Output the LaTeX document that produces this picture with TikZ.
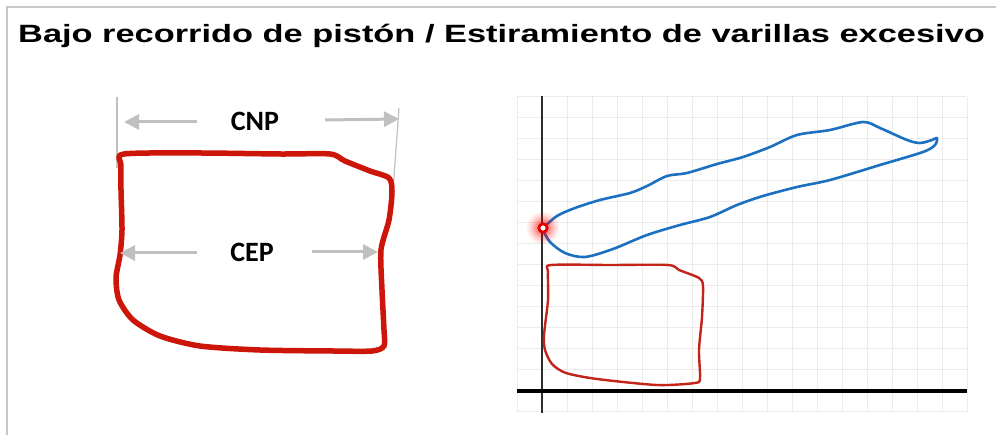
\documentclass[tikz,border=0pt]{standalone}
\usepackage{fontspec}
\setmainfont{Liberation Sans}
\newfontfamily\calib{Carlito}
\usetikzlibrary{arrows.meta}
\definecolor{framegray}{RGB}{200,200,200}
\definecolor{gridgray}{RGB}{236,236,236}
\definecolor{arrgray}{RGB}{192,192,192}
\definecolor{bigred}{RGB}{205,22,10}
\definecolor{smallred}{RGB}{195,35,25}
\definecolor{curveblue}{RGB}{28,112,192}
\definecolor{axisdark}{RGB}{45,45,45}
\tikzset{
  dimarrow/.style={draw=arrgray,line width=3pt,-{Triangle[length=15pt,width=15pt]}},
  dimline/.style={draw=arrgray,line width=1.2pt},
  lbl/.style={font=\calib\bfseries\fontsize{28}{30}\selectfont,inner sep=0pt},
  gridline/.style={draw=gridgray,line width=1pt},
}
\begin{document}
\begin{tikzpicture}[x=1pt,y=-1pt]
\useasboundingbox (0,0) rectangle (996,435);
\fill[white] (0,0) rectangle (996,435);
% frame
\draw[framegray,line width=2pt] (7,435) -- (7,7) -- (996,7);
% title
\node[anchor=base west,inner sep=0pt,font=\bfseries\fontsize{25}{28}\selectfont] (title) at (18,43) {\scalebox{1.375}[1]{Bajo recorrido de pistón / Estiramiento de varillas excesivo}};
% left diagram
\coordinate (vl1) at (117,97); \coordinate (vl2) at (117,168);
\coordinate (vr1) at (399,108); \coordinate (vr2) at (393,190);
\draw[dimline] (vl1) -- (vl2);
\draw[dimline] (vr1) -- (vr2);
\draw[bigred,line width=5.5pt,line join=round] plot[smooth cycle,tension=0.45] coordinates {
 (124,154) (200,153) (280,154) (330,154) (345,161) (370,171) (389,178) (392,192)
 (389,220) (381,250) (382,290) (384,330) (384,346) (372,351) (333,351) (260,350)
 (200,346) (160,336) (133,320) (119,300) (116,278) (120,255) (122,230) (121,190) (121,165)};
\node[lbl] (cnp) at (255,121) {CNP};
\node[lbl] (cep) at (252,252) {CEP};
\coordinate (cnpL0) at (197,122); \coordinate (cnpL1) at (124,122);
\coordinate (cnpR0) at (325,120); \coordinate (cnpR1) at (399,119);
\coordinate (cepL0) at (197,253); \coordinate (cepL1) at (120,253);
\coordinate (cepR0) at (312,252); \coordinate (cepR1) at (378,252);
\draw[dimarrow] (cnpL0) -- (cnpL1);
\draw[dimarrow] (cnpR0) -- (cnpR1);
\draw[dimarrow] (cepL0) -- (cepL1);
\draw[dimarrow] (cepR0) -- (cepR1);
% grid
\foreach \gx in {517,542,...,967} \draw[gridline] (\gx,97) -- (\gx,412);
\foreach \gy in {97,118,...,412} \draw[gridline] (517,\gy) -- (967,\gy);
% axes
\coordinate (ytop) at (542,96); \coordinate (ybot) at (542,413);
\coordinate (xl) at (517,391); \coordinate (xr) at (967,391);
\draw[axisdark,line width=1.6pt] (ytop) -- (ybot);
\draw[black,line width=4pt] (xl) -- (xr);
% blue card
\draw[curveblue,line width=2.6pt,line join=round,line cap=round] plot[smooth,tension=0.5] coordinates {
 (543,228) (557,216) (575,208) (600,200) (630,193) (647,186) (667,176) (687,173)
 (717,164) (743,157) (770,147) (797,135) (830,130) (863,122) (880,128) (907,140)
 (920,143) (932,140) (937,138) (935,145) (923,152) (880,165) (830,180) (797,187)
 (763,196) (737,205) (710,217) (680,225) (647,235) (613,249) (585,257) (565,253)
 (550,242) (543,230)};
% small red card
\draw[smallred,line width=2.4pt,line join=round] plot[smooth cycle,tension=0.45] coordinates {
 (551,265) (610,265) (668,265) (679,270) (699,278) (703,286) (702,317) (699,350)
 (700,378) (695,383) (657,385) (597,379) (566,373) (552,364) (545,350) (544,335)
 (548,300) (548,272)};
% red dot with glow
\coordinate (dot) at (543,228);
\foreach \r/\o in {16/0.06,14/0.08,12/0.1,10/0.12,8/0.16} \fill[red,opacity=\o] (dot) circle (\r);
\draw[red!90!black,line width=2.8pt,fill=white] (dot) circle (4.2);
\end{tikzpicture}
\end{document}
